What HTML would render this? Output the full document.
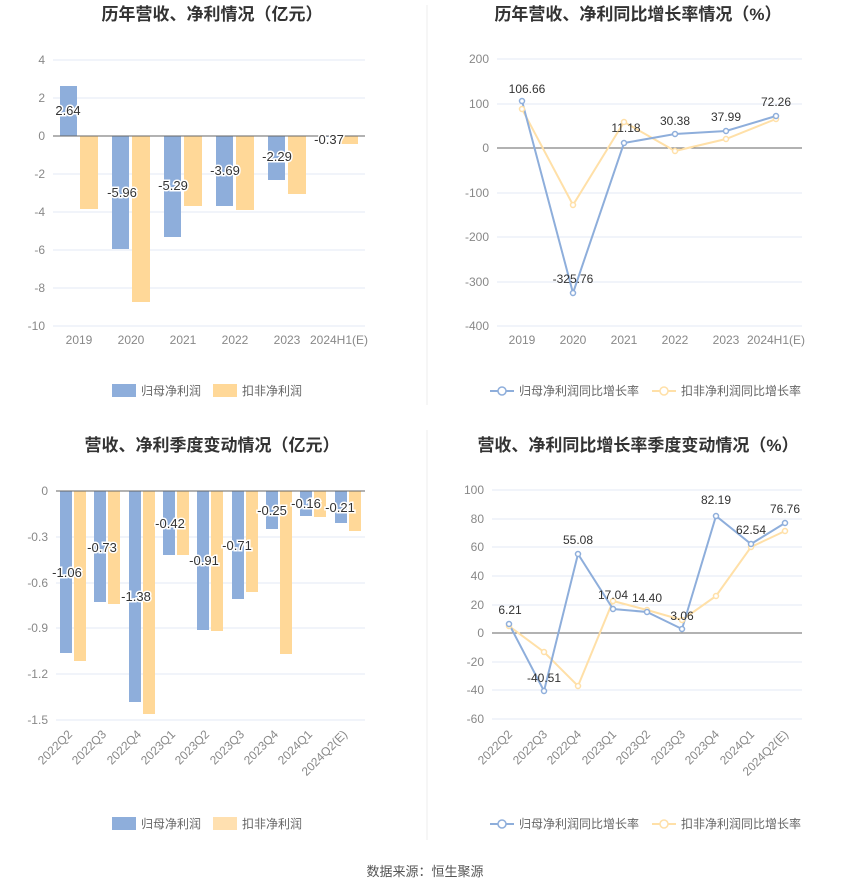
<!DOCTYPE html><html><head><meta charset="utf-8"><style>body{margin:0;background:#fff}svg{display:block;font-family:"Liberation Sans","Noto Sans CJK SC",sans-serif}</style></head><body>
<svg width="850" height="891" xmlns="http://www.w3.org/2000/svg">
<line x1="427" y1="5" x2="427" y2="405" stroke="#eee"/><line x1="427" y1="430" x2="427" y2="840" stroke="#eee"/>
<g font-weight="bold" font-size="17" fill="#333" text-anchor="middle">
<text x="212" y="20">历年营收、净利情况（亿元）</text><text x="638" y="20">历年营收、净利同比增长率情况（%）</text>
<text x="212" y="451">营收、净利季度变动情况（亿元）</text><text x="638" y="451">营收、净利同比增长率季度变动情况（%）</text></g>
<!-- chart1 -->
<g font-size="12" fill="#888" text-anchor="end" stroke-width="1">
<g stroke="#e3e8f4"><line x1="53" x2="365" y1="60" y2="60"/><line x1="53" x2="365" y1="98" y2="98"/><line x1="53" x2="365" y1="174" y2="174"/><line x1="53" x2="365" y1="212" y2="212"/><line x1="53" x2="365" y1="250" y2="250"/><line x1="53" x2="365" y1="288" y2="288"/><line x1="53" x2="365" y1="326" y2="326"/></g>
<text x="45" y="64">4</text><text x="45" y="102">2</text><text x="45" y="140">0</text><text x="45" y="178">-2</text><text x="45" y="216">-4</text><text x="45" y="254">-6</text><text x="45" y="292">-8</text><text x="45" y="330">-10</text>
</g>
<g fill="#8eaedb"><rect x="60" y="86" width="17" height="50"/><rect x="112" y="136" width="17" height="113"/><rect x="164" y="136" width="17" height="101"/><rect x="216" y="136" width="17" height="70"/><rect x="268" y="136" width="17" height="44"/><rect x="320" y="136" width="17" height="1"/></g>
<g fill="#ffd898"><rect x="80" y="136" width="18" height="73"/><rect x="132" y="136" width="18" height="166"/><rect x="184" y="136" width="18" height="70"/><rect x="236" y="136" width="18" height="74"/><rect x="288" y="136" width="18" height="58"/><rect x="340" y="136" width="18" height="8"/></g>
<line x1="53" x2="365" y1="136" y2="136" stroke="#666"/>
<g font-size="13" fill="#333" text-anchor="middle" stroke="#fff" stroke-width="3" paint-order="stroke"><text x="68" y="115">2.64</text><text x="122" y="197">-5.96</text><text x="173" y="190">-5.29</text><text x="225" y="175">-3.69</text><text x="277" y="161">-2.29</text><text x="329" y="144">-0.37</text></g>
<g font-size="12" fill="#888" text-anchor="middle"><text x="79" y="344">2019</text><text x="131" y="344">2020</text><text x="183" y="344">2021</text><text x="235" y="344">2022</text><text x="287" y="344">2023</text><text x="339" y="344">2024H1(E)</text></g>
<g font-size="12" fill="#666"><rect x="112" y="384" width="24" height="13" fill="#8eaedb"/><text x="141" y="395">归母净利润</text><rect x="213" y="384" width="24" height="13" fill="#ffd898"/><text x="242" y="395">扣非净利润</text></g>
<!-- chart2 -->
<g font-size="12" fill="#888" text-anchor="end">
<g stroke="#e3e8f4"><line x1="497" x2="802" y1="59" y2="59"/><line x1="497" x2="802" y1="104" y2="104"/><line x1="497" x2="802" y1="193" y2="193"/><line x1="497" x2="802" y1="237" y2="237"/><line x1="497" x2="802" y1="282" y2="282"/><line x1="497" x2="802" y1="326" y2="326"/></g>
<text x="489" y="63">200</text><text x="489" y="108">100</text><text x="489" y="152">0</text><text x="489" y="197">-100</text><text x="489" y="241">-200</text><text x="489" y="286">-300</text><text x="489" y="330">-400</text></g>
<line x1="497" x2="802" y1="148" y2="148" stroke="#666"/>
<polyline points="522,109 573,205 624,122 675,151 726,139 776,119" fill="none" stroke="#ffe0a8" stroke-width="2"/>
<polyline points="522,101 573,293 624,143 675,134 726,131 776,116" fill="none" stroke="#8eaedb" stroke-width="2"/>
<g fill="#fff" stroke-width="1.5"><g stroke="#ffe0a8"><circle cx="522" cy="109" r="2.5"/><circle cx="573" cy="205" r="2.5"/><circle cx="624" cy="122" r="2.5"/><circle cx="675" cy="151" r="2.5"/><circle cx="726" cy="139" r="2.5"/><circle cx="776" cy="119" r="2.5"/></g>
<g stroke="#8eaedb"><circle cx="522" cy="101" r="2.5"/><circle cx="573" cy="293" r="2.5"/><circle cx="624" cy="143" r="2.5"/><circle cx="675" cy="134" r="2.5"/><circle cx="726" cy="131" r="2.5"/><circle cx="776" cy="116" r="2.5"/></g></g>
<g font-size="12" fill="#333" text-anchor="middle"><text x="527" y="93">106.66</text><text x="573" y="283">-325.76</text><text x="626" y="132">11.18</text><text x="675" y="125">30.38</text><text x="726" y="121">37.99</text><text x="776" y="106">72.26</text></g>
<g font-size="12" fill="#888" text-anchor="middle"><text x="522" y="344">2019</text><text x="573" y="344">2020</text><text x="624" y="344">2021</text><text x="675" y="344">2022</text><text x="726" y="344">2023</text><text x="776" y="344">2024H1(E)</text></g>
<g font-size="12" fill="#666"><line x1="490" x2="514" y1="391" y2="391" stroke="#8eaedb" stroke-width="2"/><circle cx="502" cy="391" r="4" fill="#fff" stroke="#8eaedb" stroke-width="1.5"/><text x="519" y="395">归母净利润同比增长率</text>
<line x1="652" x2="676" y1="391" y2="391" stroke="#ffe0a8" stroke-width="2"/><circle cx="664" cy="391" r="4" fill="#fff" stroke="#ffe0a8" stroke-width="1.5"/><text x="681" y="395">扣非净利润同比增长率</text></g>
<!-- chart3 -->
<g font-size="12" fill="#888" text-anchor="end">
<g stroke="#e3e8f4"><line x1="56" x2="365" y1="537" y2="537"/><line x1="56" x2="365" y1="583" y2="583"/><line x1="56" x2="365" y1="628" y2="628"/><line x1="56" x2="365" y1="674" y2="674"/><line x1="56" x2="365" y1="720" y2="720"/></g>
<text x="48" y="495">0</text><text x="48" y="541">-0.3</text><text x="48" y="587">-0.6</text><text x="48" y="632">-0.9</text><text x="48" y="678">-1.2</text><text x="48" y="724">-1.5</text></g>
<g fill="#8eaedb"><rect x="60" y="491" width="12" height="162"/><rect x="94" y="491" width="12" height="111"/><rect x="129" y="491" width="12" height="211"/><rect x="163" y="491" width="12" height="64"/><rect x="197" y="491" width="12" height="139"/><rect x="232" y="491" width="12" height="108"/><rect x="266" y="491" width="12" height="38"/><rect x="300" y="491" width="12" height="25"/><rect x="335" y="491" width="12" height="32"/></g>
<g fill="#ffd898"><rect x="74" y="491" width="12" height="170"/><rect x="108" y="491" width="12" height="113"/><rect x="143" y="491" width="12" height="223"/><rect x="177" y="491" width="12" height="64"/><rect x="211" y="491" width="12" height="140"/><rect x="246" y="491" width="12" height="101"/><rect x="280" y="491" width="12" height="163"/><rect x="314" y="491" width="12" height="26"/><rect x="349" y="491" width="12" height="40"/></g>
<line x1="56" x2="365" y1="491" y2="491" stroke="#666"/>
<g font-size="13" fill="#333" text-anchor="middle" stroke="#fff" stroke-width="3" paint-order="stroke"><text x="67" y="577">-1.06</text><text x="102" y="552">-0.73</text><text x="136" y="601">-1.38</text><text x="170" y="528">-0.42</text><text x="204" y="565">-0.91</text><text x="237" y="550">-0.71</text><text x="272" y="515">-0.25</text><text x="306" y="508">-0.16</text><text x="340" y="512">-0.21</text></g>
<g font-size="12" fill="#888" text-anchor="end">
<text transform="translate(73,735) rotate(-45)">2022Q2</text><text transform="translate(107,735) rotate(-45)">2022Q3</text><text transform="translate(142,735) rotate(-45)">2022Q4</text><text transform="translate(176,735) rotate(-45)">2023Q1</text><text transform="translate(210,735) rotate(-45)">2023Q2</text><text transform="translate(245,735) rotate(-45)">2023Q3</text><text transform="translate(279,735) rotate(-45)">2023Q4</text><text transform="translate(313,735) rotate(-45)">2024Q1</text><text transform="translate(348,735) rotate(-45)">2024Q2(E)</text></g>
<g font-size="12" fill="#666"><rect x="112" y="817" width="24" height="13" fill="#8eaedb"/><text x="141" y="828">归母净利润</text><rect x="213" y="817" width="24" height="13" fill="#ffe0b0"/><text x="242" y="828">扣非净利润</text></g>
<!-- chart4 -->
<g font-size="12" fill="#888" text-anchor="end">
<g stroke="#e3e8f4"><line x1="492" x2="802" y1="490" y2="490"/><line x1="492" x2="802" y1="519" y2="519"/><line x1="492" x2="802" y1="547" y2="547"/><line x1="492" x2="802" y1="576" y2="576"/><line x1="492" x2="802" y1="605" y2="605"/><line x1="492" x2="802" y1="662" y2="662"/><line x1="492" x2="802" y1="690" y2="690"/><line x1="492" x2="802" y1="719" y2="719"/></g>
<text x="484" y="494">100</text><text x="484" y="523">80</text><text x="484" y="551">60</text><text x="484" y="580">40</text><text x="484" y="609">20</text><text x="484" y="637">0</text><text x="484" y="666">-20</text><text x="484" y="694">-40</text><text x="484" y="723">-60</text></g>
<line x1="492" x2="802" y1="633" y2="633" stroke="#666"/>
<polyline points="509,626 544,652 578,686 613,601 647,610 682,620 716,596 751,547 785,531" fill="none" stroke="#ffe0a8" stroke-width="2"/>
<polyline points="509,624 544,691 578,554 613,609 647,612 682,629 716,516 751,544 785,523" fill="none" stroke="#8eaedb" stroke-width="2"/>
<g fill="#fff" stroke-width="1.5"><g stroke="#ffe0a8"><circle cx="509" cy="626" r="2.5"/><circle cx="544" cy="652" r="2.5"/><circle cx="578" cy="686" r="2.5"/><circle cx="613" cy="601" r="2.5"/><circle cx="647" cy="610" r="2.5"/><circle cx="682" cy="620" r="2.5"/><circle cx="716" cy="596" r="2.5"/><circle cx="751" cy="547" r="2.5"/><circle cx="785" cy="531" r="2.5"/></g>
<g stroke="#8eaedb"><circle cx="509" cy="624" r="2.5"/><circle cx="544" cy="691" r="2.5"/><circle cx="578" cy="554" r="2.5"/><circle cx="613" cy="609" r="2.5"/><circle cx="647" cy="612" r="2.5"/><circle cx="682" cy="629" r="2.5"/><circle cx="716" cy="516" r="2.5"/><circle cx="751" cy="544" r="2.5"/><circle cx="785" cy="523" r="2.5"/></g></g>
<g font-size="12" fill="#333" text-anchor="middle"><text x="510" y="614">6.21</text><text x="544" y="682">-40.51</text><text x="578" y="544">55.08</text><text x="613" y="599">17.04</text><text x="647" y="602">14.40</text><text x="682" y="620">3.06</text><text x="716" y="504">82.19</text><text x="751" y="534">62.54</text><text x="785" y="513">76.76</text></g>
<g font-size="12" fill="#888" text-anchor="end">
<text transform="translate(513,735) rotate(-45)">2022Q2</text><text transform="translate(548,735) rotate(-45)">2022Q3</text><text transform="translate(582,735) rotate(-45)">2022Q4</text><text transform="translate(617,735) rotate(-45)">2023Q1</text><text transform="translate(651,735) rotate(-45)">2023Q2</text><text transform="translate(686,735) rotate(-45)">2023Q3</text><text transform="translate(720,735) rotate(-45)">2023Q4</text><text transform="translate(755,735) rotate(-45)">2024Q1</text><text transform="translate(789,735) rotate(-45)">2024Q2(E)</text></g>
<g font-size="12" fill="#666"><line x1="490" x2="514" y1="824" y2="824" stroke="#8eaedb" stroke-width="2"/><circle cx="502" cy="824" r="4" fill="#fff" stroke="#8eaedb" stroke-width="1.5"/><text x="519" y="828">归母净利润同比增长率</text>
<line x1="652" x2="676" y1="824" y2="824" stroke="#ffe0a8" stroke-width="2"/><circle cx="664" cy="824" r="4" fill="#fff" stroke="#ffe0a8" stroke-width="1.5"/><text x="681" y="828">扣非净利润同比增长率</text></g>
<text x="425" y="876" font-size="13" fill="#555" text-anchor="middle">数据来源：恒生聚源</text>
</svg></body></html>
